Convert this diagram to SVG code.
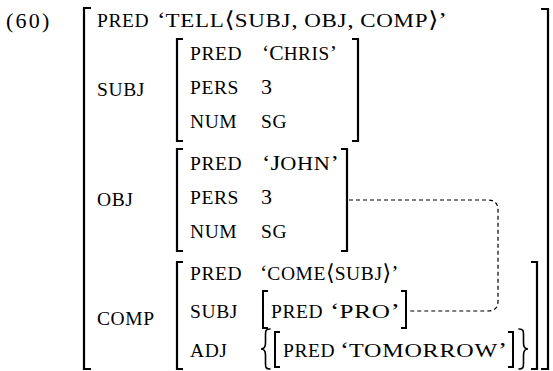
<svg xmlns="http://www.w3.org/2000/svg" width="553" height="371" viewBox="0 0 553 371">
  <style>
    .t { font-family: "Liberation Serif", "Times New Roman", "DejaVu Serif", serif; font-size: 22px; fill: #000; }
    .sc { font-size: 19.5px; letter-spacing: 0.6px; }
    .br { fill: none; stroke: #000; stroke-width: 2.2; stroke-linecap: butt; stroke-linejoin: miter; }
    .brs { fill: none; stroke: #000; stroke-width: 2; }
    .brace { fill: none; stroke: #000; stroke-width: 1.6; stroke-linecap: round; }
    .link { fill: none; stroke: #000; stroke-width: 1.2; stroke-dasharray: 4 3; }
  </style>

  <text class="t" x="6" y="28" letter-spacing="2.2">(60)</text>

  <!-- outer f-structure -->
  <g id="fs-main">
    <path class="br" d="M 91 8 H 84 V 369 H 91"/>
    <path class="br" d="M 541 9 H 548 V 369 H 541"/>
    <text class="t sc" x="97" y="27">PRED</text>
    <text class="t" x="157" y="27" textLength="290" lengthAdjust="spacingAndGlyphs">‘<tspan class="sc">TELL</tspan>⟨<tspan class="sc">SUBJ</tspan>, <tspan class="sc">OBJ</tspan>, <tspan class="sc">COMP</tspan>⟩’</text>
    <text class="t sc" x="97" y="96">SUBJ</text>
    <text class="t sc" x="97" y="206">OBJ</text>
    <text class="t sc" x="97" y="325">COMP</text>
  </g>

  <!-- SUBJ -->
  <g id="fs-subj">
    <path class="br" d="M 183 39 H 177 V 141 H 183"/>
    <path class="br" d="M 352 39 H 358 V 141 H 352"/>
    <text class="t sc" x="190" y="60">PRED</text>
    <text class="t" x="262" y="60" textLength="75" lengthAdjust="spacingAndGlyphs">‘C<tspan class="sc">HRIS</tspan>’</text>
    <text class="t sc" x="190" y="94">PERS</text>
    <text class="t" x="261" y="94">3</text>
    <text class="t sc" x="190" y="128">NUM</text>
    <text class="t sc" x="261" y="128">SG</text>
  </g>

  <!-- OBJ -->
  <g id="fs-obj">
    <path class="br" d="M 183 149 H 177 V 251 H 183"/>
    <path class="br" d="M 341 149 H 347 V 251 H 341"/>
    <text class="t sc" x="190" y="170">PRED</text>
    <text class="t" x="262" y="170" textLength="77" lengthAdjust="spacingAndGlyphs">‘J<tspan class="sc">OHN</tspan>’</text>
    <text class="t sc" x="190" y="204">PERS</text>
    <text class="t" x="261" y="204">3</text>
    <text class="t sc" x="190" y="238">NUM</text>
    <text class="t sc" x="261" y="238">SG</text>
  </g>

  <!-- COMP -->
  <g id="fs-comp">
    <path class="br" d="M 183 262 H 177 V 369 H 183"/>
    <path class="br" d="M 531 262 H 537 V 369 H 531"/>
    <text class="t sc" x="190" y="280">PRED</text>
    <text class="t" x="260" y="280">‘<tspan class="sc">COME</tspan>⟨<tspan class="sc">SUBJ</tspan>⟩’</text>
    <text class="t sc" x="190" y="318">SUBJ</text>
    <text class="t sc" x="190" y="357">ADJ</text>
  </g>

  <!-- COMP SUBJ -->
  <g id="fs-comp-subj">
    <path class="brs" d="M 268 291 H 263 V 328 H 268"/>
    <path class="brs" d="M 401 291 H 406 V 328 H 401"/>
    <text class="t sc" x="271" y="318">PRED</text>
    <text class="t" x="330" y="318" textLength="70" lengthAdjust="spacingAndGlyphs">‘<tspan class="sc">PRO</tspan>’</text>
  </g>

  <!-- COMP ADJ set -->
  <g id="fs-comp-adj">
    <path class="brace" d="M 270 329 C 265.5 329 265.5 331 265.5 335 V 343 C 265.5 347 264.5 349 261 349 C 264.5 349 265.5 351 265.5 355 V 363 C 265.5 367 265.5 369 270 369"/>
    <path class="brs" d="M 280 332 H 275 V 367 H 280"/>
    <text class="t sc" x="283" y="357">PRED</text>
    <text class="t" x="340" y="357" textLength="167" lengthAdjust="spacingAndGlyphs">‘<tspan class="sc">TOMORROW</tspan>’</text>
    <path class="brs" d="M 508 332 H 513 V 367 H 508"/>
    <path class="brace" d="M 519 329 C 523.5 329 523.5 331 523.5 335 V 343 C 523.5 347 524.5 349 528 349 C 524.5 349 523.5 351 523.5 355 V 363 C 523.5 367 523.5 369 519 369"/>
  </g>

  <!-- structure-sharing link -->
  <g id="connectors">
    <path class="link" d="M 349 200 H 488 Q 498 200 498 210 V 301 Q 498 311 488 311 H 408"/>
  </g>
</svg>
